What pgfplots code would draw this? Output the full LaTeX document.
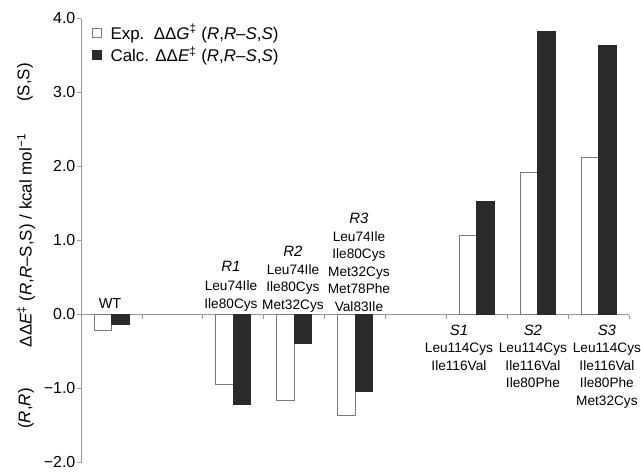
\documentclass[border=0pt]{standalone}
\usepackage{pgfplots}
\pgfplotsset{compat=1.18}
\usepackage{fontspec}
\setmainfont{Liberation Sans}
\usetikzlibrary{calc}
\definecolor{axgray}{HTML}{999999}
\definecolor{bargray}{HTML}{7A7A7A}
\definecolor{darkbar}{HTML}{2A2A2A}
\begin{document}
\begin{tikzpicture}
\begin{axis}[
  scale only axis,
  width=548bp, height=444bp,
  xmin=-0.5, xmax=8.5,
  ymin=-2, ymax=4,
  clip=false,
  axis x line=middle,
  axis y line=left,
  axis line style={-, axgray, line width=0.6bp},
  hide obscured x ticks=false,
  hide obscured y ticks=false,
  xtick={0.5,1.5,2.5,3.5,4.5,5.5,6.5,7.5,8.5},
  xticklabels={},
  ytick={-2,-1,0,1,2,3,4},
  yticklabels={−2.0,−1.0,0.0,1.0,2.0,3.0,4.0},
  tick align=outside,
  major tick length=4bp,
  tick style={axgray, line width=0.6bp},
  yticklabel style={font=\fontsize{16}{18}\selectfont, inner sep=1.5bp},
  ybar=0pt,
  bar width=17.5bp,
  ylabel={ΔΔ\textit{E}\textsuperscript{‡} (\textit{R},\textit{R}–S,S) / kcal mol\textsuperscript{−1}},
  every axis y label/.style={at={(rel axis cs:0,0.5)}, xshift=-55bp, rotate=90, anchor=center, font=\fontsize{17}{20}\selectfont},
  legend style={at={(rel axis cs:0,1)}, anchor=north west, xshift=11bp, yshift=-4.6bp,
    draw=none, fill=none, inner sep=0pt, row sep=4bp,
    nodes={inner sep=1bp},
    font=\fontsize{17}{20}\selectfont},
  legend cell align=left,
]
\addplot[fill=white, draw=bargray, line width=0.7bp,
  legend image code/.code={\draw[fill=white, draw=bargray, line width=0.7bp] (0bp,-4.5bp) rectangle (9bp,4.5bp); \path[draw=none, fill=none] (0bp,0bp) -- (17bp,0bp);}]
  coordinates {(0,-0.21) (2,-0.94) (3,-1.16) (4,-1.365) (6,1.063) (7,1.915) (8,2.122)};
\addlegendentry{\rlap{Exp.}\phantom{Calc.} ΔΔ\textit{G}\textsuperscript{‡} (\textit{R},\textit{R}–\textit{S},\textit{S})}
\addplot[fill=darkbar, draw=darkbar, line width=0.7bp,
  legend image code/.code={\draw[fill=darkbar, draw=darkbar, line width=0.7bp] (0bp,-4.5bp) rectangle (9bp,4.5bp); \path[draw=none, fill=none] (0bp,0bp) -- (17bp,0bp);}]
  coordinates {(0,-0.13) (2,-1.22) (3,-0.39) (4,-1.045) (6,1.527) (7,3.824) (8,3.64)};
\addlegendentry{Calc. ΔΔ\textit{E}\textsuperscript{‡} (\textit{R},\textit{R}–\textit{S},\textit{S})}

% side labels
\node[xshift=-56bp, rotate=90, font=\fontsize{17}{20}\selectfont] at (axis cs:-0.5,3.135) {(S,S)};
\node[xshift=-55bp, rotate=90, font=\fontsize{17}{20}\selectfont] at (axis cs:-0.5,-1.27) {(\textit{R},\textit{R})};

% category labels
\tikzset{catlab/.style={align=center, inner sep=0pt, font=\fontsize{13.7}{17.6}\selectfont}}
\node[catlab, anchor=south, font=\fontsize{14.5}{17.6}\selectfont, yshift=6bp] at (axis cs:-0.024,0) {WT};
\node[catlab, anchor=north, yshift=53bp] at (axis cs:1.963,0) {{\fontsize{15}{17.6}\selectfont\textit{R1}}\\[1bp]Leu74Ile\\Ile80Cys};
\node[catlab, anchor=north, yshift=68.4bp] at (axis cs:2.981,0) {{\fontsize{15}{17.6}\selectfont\textit{R2}}\\Leu74Ile\\Ile80Cys\\Met32Cys};
\node[catlab, anchor=north, yshift=101.4bp] at (axis cs:4.065,0) {{\fontsize{15}{17.6}\selectfont\textit{R3}}\\Leu74Ile\\Ile80Cys\\Met32Cys\\Met78Phe\\Val83Ile};
\node[catlab, anchor=north, yshift=-10bp] at (axis cs:5.707,0) {{\fontsize{15}{17.3}\selectfont\textit{S1}}\\Leu114Cys\\Ile116Val};
\node[catlab, anchor=north, yshift=-10bp] at (axis cs:6.922,0) {{\fontsize{15}{17.3}\selectfont\textit{S2}}\\Leu114Cys\\Ile116Val\\Ile80Phe};
\node[catlab, anchor=north, yshift=-10bp] at (axis cs:8.137,0) {{\fontsize{15}{17.3}\selectfont\textit{S3}}\\Leu114Cys\\Ile116Val\\Ile80Phe\\Met32Cys};
\end{axis}
\pgfresetboundingbox
\path[use as bounding box] ($(current axis.south west)+(-81bp,-9.5bp)$) rectangle ($(current axis.north east)+(12bp,18.5bp)$);
\end{tikzpicture}
\end{document}
